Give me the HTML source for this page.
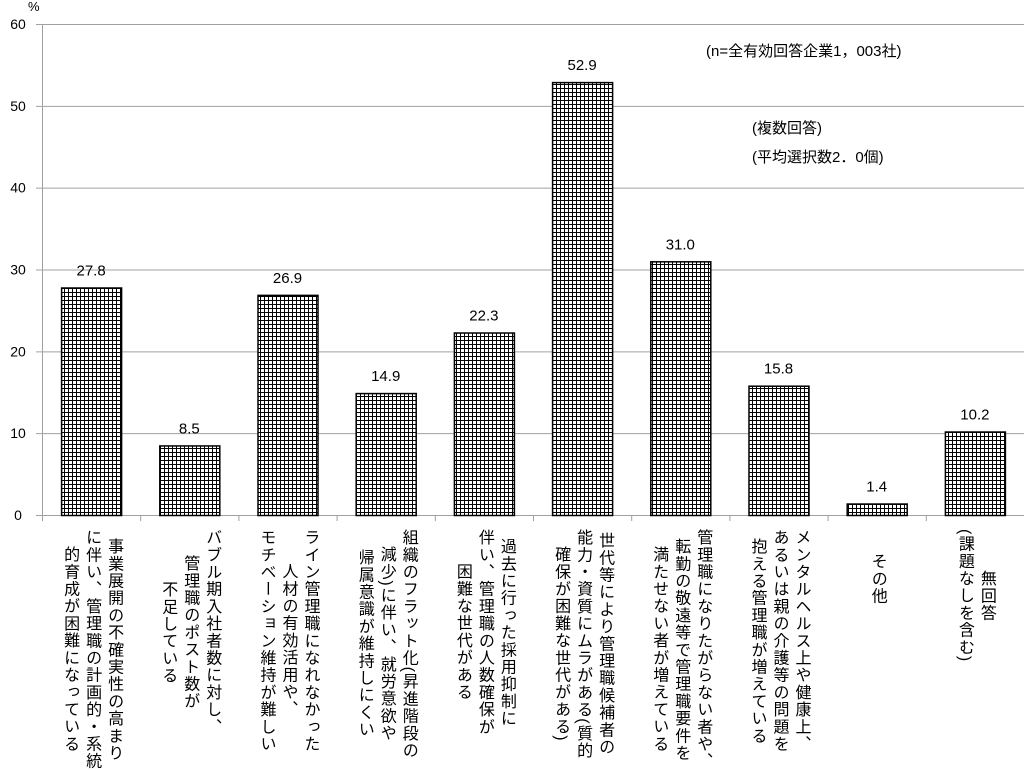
<!DOCTYPE html>
<html><head><meta charset="utf-8"><style>
body{margin:0;background:#fff;width:1024px;height:758px;overflow:hidden;font-family:"Liberation Sans","Noto Sans CJK JP",sans-serif;}
.lab{position:absolute;top:529px;writing-mode:vertical-rl;text-align:center;font-size:16px;letter-spacing:1.2px;line-height:22px;color:#000;transform:translateX(-50%);white-space:nowrap;}
.note{position:absolute;font-size:15px;color:#000;}
</style></head><body>
<svg id="chart" width="1024" height="758" style="position:absolute;left:0;top:0">
<defs><pattern id="grid" width="4" height="4" patternUnits="userSpaceOnUse"><rect width="4" height="4" fill="#fff"/><path d="M0 0.5H4M0.5 0V4" stroke="#000" stroke-width="1"/></pattern></defs>
<text x="28" y="11" font-size="13" font-family="Liberation Sans">%</text>
</svg>
<div class="note" style="left:706px;top:40px">(n=全有効回答企業1，003社)</div>
<div class="note" style="left:752px;top:117px">(複数回答)</div>
<div class="note" style="left:752px;top:146px">(平均選択数2．0個)</div>
<script>
const categories=["事業展開の不確実性の高まりに伴い、管理職の計画的・系統的育成が困難になっている","バブル期入社者数に対し、管理職のポスト数が不足している","ライン管理職になれなかった人材の有効活用や、モチベーション維持が難しい","組織のフラット化(昇進階段の減少)に伴い、就労意欲や帰属意識が維持しにくい","過去に行った採用抑制に伴い、管理職の人数確保が困難な世代がある","世代等により管理職候補者の能力・資質にムラがある(質的確保が困難な世代がある)","管理職になりたがらない者や、転勤の敬遠等で管理職要件を満たせない者が増えている","メンタルヘルス上や健康上、あるいは親の介護等の問題を抱える管理職が増えている","その他","無回答(課題なしを含む)"];
const labelLines=[["事業展開の不確実性の高まり","に伴い、管理職の計画的・系統","的育成が困難になっている"],["バブル期入社者数に対し、","管理職のポスト数が","不足している"],["ライン管理職になれなかった","人材の有効活用や、","モチベーション維持が難しい"],["組織のフラット化(昇進階段の","減少)に伴い、就労意欲や","帰属意識が維持しにくい"],["過去に行った採用抑制に","伴い、管理職の人数確保が","困難な世代がある"],["世代等により管理職候補者の","能力・資質にムラがある(質的","確保が困難な世代がある)"],["管理職になりたがらない者や、","転勤の敬遠等で管理職要件を","満たせない者が増えている"],["メンタルヘルス上や健康上、","あるいは親の介護等の問題を","抱える管理職が増えている"],["その他"],["無回答","(課題なしを含む)"]];
const values=[27.8,8.5,26.9,14.9,22.3,52.9,31.0,15.8,1.4,10.2];
const yTicks=[0,10,20,30,40,50,60];
const svg=document.getElementById('chart');const NS="http://www.w3.org/2000/svg";
const x0=42,x1=1024,yb=515,yt=24,ymax=60;
const y=v=>yb-(v/ymax)*(yb-yt);
const bw=(x1-x0)/categories.length;
const cx=i=>x0+bw*(i+0.5);
function mk(t,a){const e=document.createElementNS(NS,t);for(const k in a)e.setAttribute(k,a[k]);svg.appendChild(e);return e;}
yTicks.forEach(t=>{
 const l=mk('line',{x1:36,x2:x1,y1:y(t)+0.5,y2:y(t)+0.5,stroke:'#a0a0a0','stroke-width':1});
 
 
 const tx=mk('text',{x:18,y:y(t)+5,'font-size':14,'text-anchor':'middle','font-family':'Liberation Sans'});tx.textContent=t;
 
 
});
const ax=mk('line',{x1:x0+0.5,x2:x0+0.5,y1:yt,y2:yb,stroke:'#a0a0a0'});


for(let i=0;i<=categories.length;i++){const t=mk('line',{x1:x0+bw*i+0.5,x2:x0+bw*i+0.5,y1:yb,y2:yb+6,stroke:'#a0a0a0'});
 
 }
values.forEach((v,i)=>{
 const w=60;
 const r=mk('rect',{x:cx(i)-w/2+0.5,y:y(v)+0.5,width:w,height:yb-y(v),fill:'url(#grid)',stroke:'#000','stroke-width':1.5});
 
 
 const tx=mk('text',{x:cx(i),y:y(v)-12,'font-size':15,'text-anchor':'middle','font-family':'Liberation Sans'});tx.textContent=v.toFixed(1);
 
 
 const d=document.createElement('div');d.className='lab';d.style.left=cx(i)+'px';
 if(labelLines[i].length===1)d.style.top='553px';
 d.innerHTML=labelLines[i].join('<br>');d.title=categories[i];
 
 
 document.body.appendChild(d);
});
</script>
</body></html>
